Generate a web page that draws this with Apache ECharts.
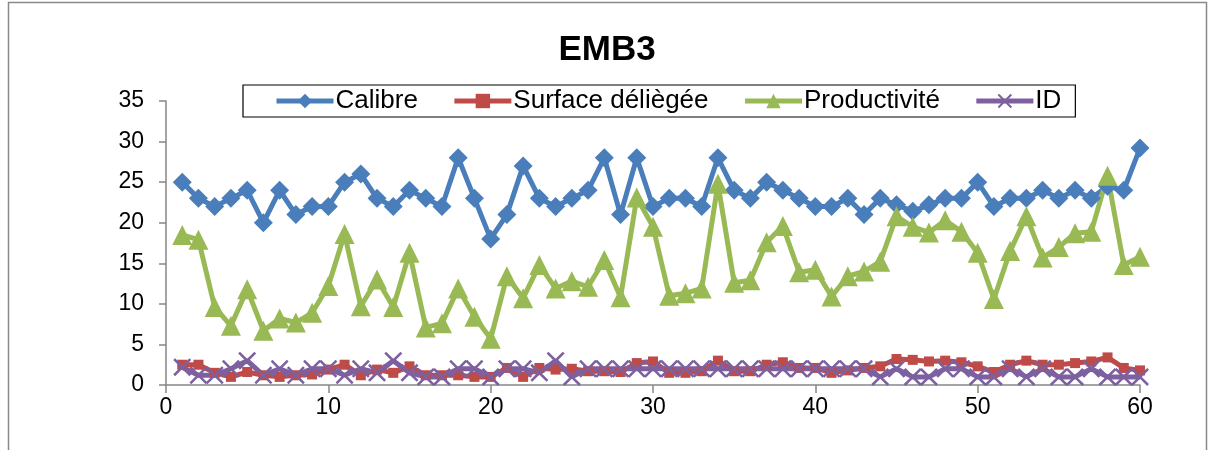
<!DOCTYPE html>
<html><head><meta charset="utf-8">
<script src="https://cdn.jsdelivr.net/npm/echarts@6/dist/echarts.min.js"></script>
<style>html,body{margin:0;padding:0;background:#fff}#c{width:1214px;height:450px}</style>
</head><body><div id="c"></div>
<script>
const categories = Array.from({length: 60}, (_, i) => i + 1);
const calibre = [25,23,22,23,24,20,24,21,22,22,25,26,23,22,24,23,22,28,23,18,21,27,23,22,23,24,28,21,28,22,23,23,22,28,24,23,25,24,23,22,22,23,21,23,22.2,21.4,22.2,23,23,25,22,23,23,24,23,24,23,24.5,24,29.2];
const surface = [2.5,2.5,1.5,1.0,1.6,1.2,1.0,1.2,1.3,1.9,2.5,1.2,1.9,1.5,2.3,1.2,1.2,1.2,1.0,1.0,2.1,1.0,2.1,1.9,2.0,1.7,1.7,1.6,2.7,2.9,1.5,1.5,1.7,3.0,1.7,1.7,2.5,2.8,2.1,2.1,1.5,1.8,2.1,2.3,3.2,3.1,2.9,3.0,2.8,2.3,1.6,2.5,3.0,2.5,2.5,2.7,2.9,3.4,2.1,1.8];
const productivite = [18.5,17.9,9.6,7.3,11.8,6.7,8.2,7.7,8.9,12.2,18.6,9.7,13,9.6,16.3,7.1,7.6,11.9,8.4,5.7,13.4,10.7,14.8,11.9,12.8,12.1,15.4,10.8,23.1,19.5,11,11.3,11.9,24.8,12.6,12.9,17.6,19.6,13.9,14.2,10.9,13.4,14,15.2,20.8,19.5,18.8,20.3,18.9,16.3,10.6,16.5,20.8,15.7,17,18.7,18.9,25.8,14.8,15.8];
const idv = [2.2,1.2,1.2,2,3,1.2,2,1.2,2,2,1.2,2,1.5,3,1.5,1,1,2,2,1,2,2,1.5,3,1,2,2,2,2,2,2,2,2,2,2,2,2,2,2,2,2,2,2,1,2,1,1,2,2,1,1,2,1,2,1,1,2,1,1,1];
const yTicks = [0,5,10,15,20,25,30,35];
const xTicks = [0,10,20,30,40,50,60];

const pair = arr => categories.map((x, i) => [x, arr[i]]);
const crossPath = 'path://M0,1L1,0L5,4L9,0L10,1L6,5L10,9L9,10L5,6L1,10L0,9L4,5Z';
const chart = echarts.init(document.getElementById('c'));
const font = 'Liberation Sans, Arial, sans-serif';
chart.setOption({
  animation: false,
  backgroundColor: '#fff',
  graphic: [{type: 'rect', shape: {x: 8.5, y: 2.5, width: 1198, height: 470}, style: {fill: 'none', stroke: '#898989', lineWidth: 1.5}, silent: true}],
  title: {text: 'EMB3', left: 'center', top: 28, textStyle: {fontFamily: font, fontSize: 35, fontWeight: 'bold', color: '#000'}},
  legend: {
    left: 243, top: 85, borderColor: '#000', borderWidth: 1.2, padding: [3, 14, 3, 31],
    itemWidth: 57, itemHeight: 18, itemGap: 34,
    lineStyle: {width: 5},
    textStyle: {fontFamily: font, fontSize: 26, color: '#000', padding: [0, 0, 0, -3]},
    data: ['Calibre', 'Surface déliègée', 'Productivité', 'ID']
  },
  grid: {left: 166, right: 74, top: 101, bottom: 65, containLabel: false},
  xAxis: {
    type: 'value', min: 0, max: 60, interval: 10,
    axisLine: {show: true, lineStyle: {color: '#868686', width: 1.5}},
    axisTick: {show: true, inside: false, length: 8, lineStyle: {color: '#868686', width: 1.5}},
    axisLabel: {fontFamily: font, fontSize: 23, color: '#000', margin: 11, customValues: xTicks},
    splitLine: {show: false}
  },
  yAxis: {
    type: 'value', min: 0, max: 35, interval: 5,
    axisLine: {show: true, lineStyle: {color: '#868686', width: 1.5}},
    axisTick: {show: true, inside: false, length: 7, lineStyle: {color: '#868686', width: 1.5}},
    axisLabel: {fontFamily: font, fontSize: 23, color: '#000', margin: 22},
    splitLine: {show: false}
  },
  series: [
    {name: 'Calibre', type: 'line', data: pair(calibre), symbol: 'diamond', symbolSize: 19,
     lineStyle: {width: 5, color: '#4A7EBB'}, itemStyle: {color: '#4A7EBB'}},
    {name: 'Surface déliègée', type: 'line', data: pair(surface), symbol: 'rect', symbolSize: 10,
     lineStyle: {width: 5, color: '#BE4B48'}, itemStyle: {color: '#BE4B48'}},
    {name: 'Productivité', type: 'line', data: pair(productivite), symbol: 'triangle', symbolSize: 20,
     lineStyle: {width: 5, color: '#98B954'}, itemStyle: {color: '#98B954'}},
    {name: 'ID', type: 'line', data: pair(idv), symbol: crossPath, symbolSize: 18,
     lineStyle: {width: 5, color: '#7D60A0'}, itemStyle: {color: '#7D60A0'}}
  ]
});
</script></body></html>
